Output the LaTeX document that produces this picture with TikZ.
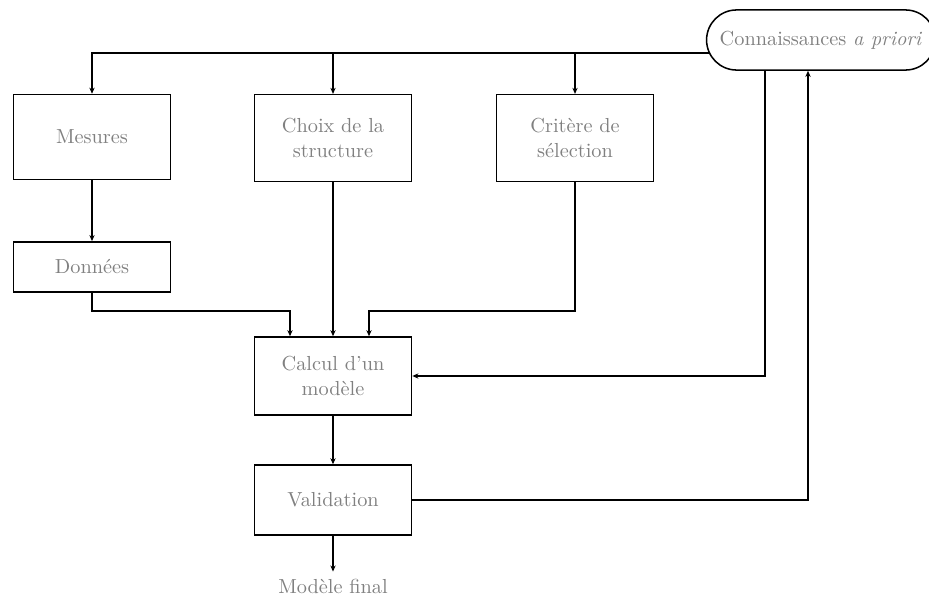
\documentclass[tikz,border=0pt]{standalone}
\usetikzlibrary{positioning,calc,arrows.meta}
\begin{document}
\begin{tikzpicture}[x=0.0173cm, y=-0.0173cm,
    bloc/.style={draw, line width=0.75pt, text=black!50, align=center, minimum width=2.72cm},
    fleche/.style={-{Stealth[length=3pt,width=2.6pt]}, line width=0.75pt}]
      \useasboundingbox (0,0) rectangle (929,599);

      % Blocs de gauche a droite
      \node[bloc, minimum height=1.47cm] (mesures) at (92,137) {Mesures};
      \node[bloc, minimum height=1.5cm] (choix) at (333,138) {Choix de la\\structure};
      \node[bloc, minimum height=1.5cm] (critere) at (575,138) {Crit\`ere de\\s\'election};
      \node[bloc, minimum height=0.87cm] (donnees) at (92,267) {Donn\'ees};
      \node[bloc, minimum height=1.35cm] (calcul) at (333,376) {Calcul d'un\\mod\`ele};
      \node[bloc, minimum height=1.21cm] (validation) at (333,500) {Validation};
      \node[text=black!50] (final) at (333,586) {Mod\`ele final};

      % Connaissances a priori
      \node[draw, line width=0.75pt, rounded corners=0.52cm, minimum height=1.04cm,
        minimum width=3.96cm, text=black!50] (apriori) at (821,40) {Connaissances \emph{a priori}};
      \coordinate (bus) at (709,53);

      % Fleches du haut
      \draw[fleche] (bus) -| (mesures.north);
      \draw[fleche] (bus -| choix.north) -- (choix.north);
      \draw[fleche] (bus -| critere.north) -- (critere.north);

      % Vers le calcul
      \draw[fleche] (mesures) -- (donnees);
      \draw[fleche] (donnees.south) |- ($(calcul.north)+(-43,-25)$) -- ($(calcul.north)+(-43,0)$);
      \draw[fleche] (choix) -- (calcul);
      \draw[fleche] (critere.south) |- ($(calcul.north)+(36,-25)$) -- ($(calcul.north)+(36,0)$);
      \draw[fleche] ($(apriori.south)+(-56,0)$) |- (calcul.east);

      % Validation
      \draw[fleche] (calcul) -- (validation);
      \draw[fleche] (validation) -- (final);
      \draw[fleche] (validation.east) -| ($(apriori.south)+(-13,0)$);
    \end{tikzpicture}
\end{document}
